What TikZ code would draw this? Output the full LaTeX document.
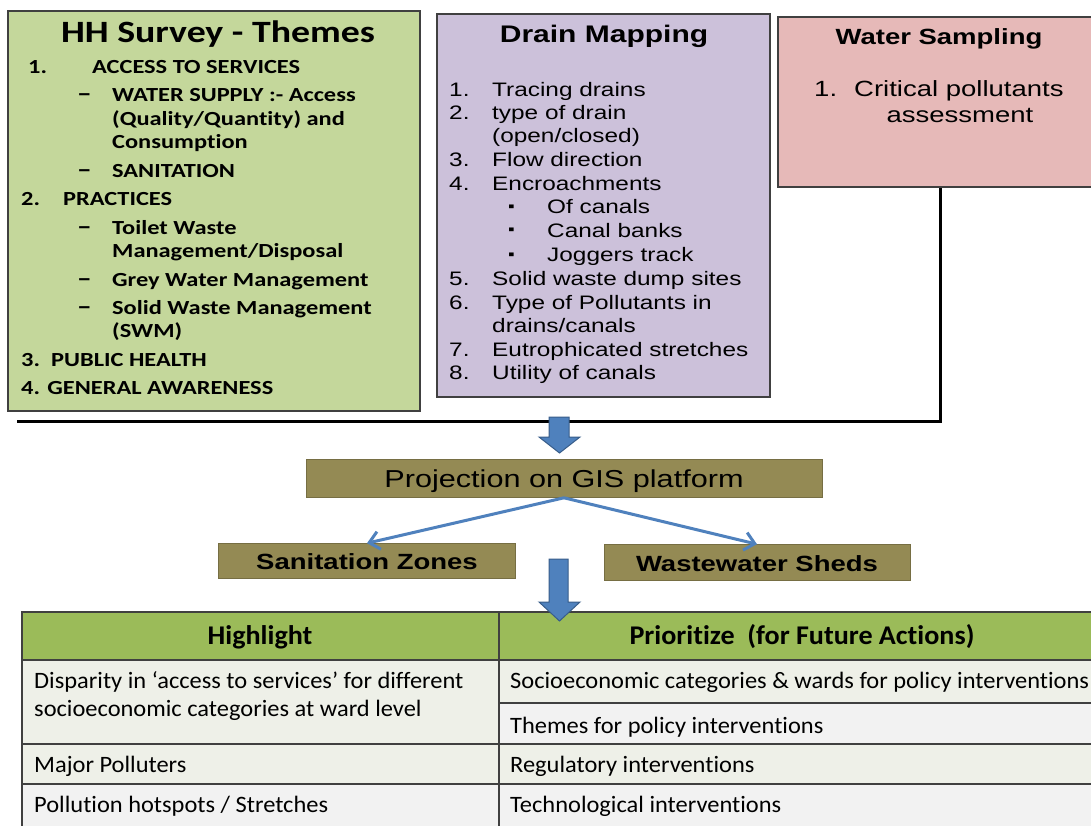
\documentclass[tikz,border=0pt]{standalone}
\usepackage{fontspec}
\setmainfont{Liberation Sans}
\newfontfamily\hhfont[FakeStretch=1.22,Ligatures=NoCommon]{Carlito}
\newfontfamily\dmfont[FakeStretch=1.25]{Liberation Sans}
\newfontfamily\tbfont[FakeStretch=1.04,Ligatures=NoCommon]{Carlito}
\usetikzlibrary{arrows.meta}
\definecolor{hhgreen}{HTML}{C4D79B}
\definecolor{dmpurple}{HTML}{CCC1DA}
\definecolor{wspink}{HTML}{E6B9B8}
\definecolor{olivebox}{HTML}{948A54}
\definecolor{blueA}{HTML}{4F81BD}
\definecolor{blueB}{HTML}{385D8A}
\definecolor{thgreen}{HTML}{9BBB59}
\definecolor{rowA}{HTML}{EEF0E8}
\definecolor{rowB}{HTML}{F2F2F2}
\definecolor{edge}{HTML}{404040}
\begin{document}
\begin{tikzpicture}[x=1pt,y=-1pt,
  panel/.style={draw=edge,line width=1.2pt,inner sep=0pt},
  lt/.style={anchor=base west,inner sep=0pt},
  ct/.style={anchor=base,inner sep=0pt},
  hhitem/.style={lt,font=\hhfont\bfseries\fontsize{20}{24}\selectfont},
  hhdash/.style={lt,font=\hhfont\bfseries\fontsize{24}{24}\selectfont},
  dmitem/.style={lt,font=\dmfont\fontsize{19.5}{23}\selectfont},
  dmbullet/.style={lt,font=\dmfont\fontsize{15}{23}\selectfont},
  wsitem/.style={lt,font=\dmfont\fontsize{22}{26}\selectfont},
  olbox/.style={panel,fill=olivebox,draw=olivebox!80!black,line width=0.6pt,text depth=0pt},
  cell/.style={draw=edge,line width=1.2pt,inner sep=0pt},
  tbitem/.style={lt,font=\tbfont\fontsize{23.5}{27}\selectfont},
  tbhead/.style={ct,font=\tbfont\bfseries\fontsize{27}{31}\selectfont},
  thinarrow/.style={draw=blueA,line width=3pt,-{Straight Barb[length=10pt,width=18pt]}},
  blockarrow/.style={fill=blueA,draw=blueB,line width=1pt,line join=miter}]
\useasboundingbox (0,0) rectangle (1091,826);
\fill[white] (0,0) rectangle (1091,826);

% ---------- top panels ----------
\node[panel,fill=hhgreen,minimum width=412pt,minimum height=400pt] (hh) at (214,211) {};
\node[panel,fill=dmpurple,minimum width=333pt,minimum height=383pt] (dm) at (603.5,205.5) {};
\node[panel,fill=wspink,minimum width=340pt,minimum height=170pt] (ws) at (948,102) {};

% HH survey text
\node[ct,font=\hhfont\bfseries\fontsize{31}{36}\selectfont] (hht) at (218,43) {HH Survey - Themes};
\node[hhitem] (h1n) at (28,74) {1.};
\node[hhitem] (h1) at (92,74) {ACCESS TO SERVICES};
\node[hhdash] (h1ad) at (77,102) {–};
\node[hhitem] (h1a) at (112,102) {WATER SUPPLY :- Access};
\node[hhitem] (h1b) at (112,126) {(Quality/Quantity) and};
\node[hhitem] (h1c) at (112,149) {Consumption};
\node[hhdash] (h1dd) at (77,178) {–};
\node[hhitem] (h1d) at (112,178) {SANITATION};
\node[hhitem] (h2n) at (21,206) {2.};
\node[hhitem] (h2) at (63,206) {PRACTICES};
\node[hhdash] (h2ad) at (77,234) {–};
\node[hhitem] (h2a) at (112,234) {Toilet Waste};
\node[hhitem] (h2b) at (112,258) {Management/Disposal};
\node[hhdash] (h2cd) at (77,286) {–};
\node[hhitem] (h2c) at (112,286) {Grey Water Management};
\node[hhdash] (h2dd) at (77,314) {–};
\node[hhitem] (h2d) at (112,314) {Solid Waste Management};
\node[hhitem] (h2e) at (112,337) {(SWM)};
\node[hhitem] (h3n) at (21,366) {3.};
\node[hhitem] (h3) at (51,366) {PUBLIC HEALTH};
\node[hhitem] (h4) at (21,394) {4. GENERAL AWARENESS};

% Drain mapping text
\node[ct,font=\dmfont\bfseries\fontsize{24}{28}\selectfont] (dmt) at (604,43) {Drain Mapping};
\node[dmitem] (d1n) at (449,97) {1.};
\node[dmitem] (d1) at (492,97) {Tracing drains};
\node[dmitem] (d2n) at (449,120) {2.};
\node[dmitem] (d2) at (492,120) {type of drain};
\node[dmitem] (d2b) at (492,143) {(open/closed)};
\node[dmitem] (d3n) at (449,167) {3.};
\node[dmitem] (d3) at (492,167) {Flow direction};
\node[dmitem] (d4n) at (449,191) {4.};
\node[dmitem] (d4) at (492,191) {Encroachments};
\node[dmbullet] (d4ab) at (508,212) {▪};
\node[dmitem] (d4a) at (547,214) {Of canals};
\node[dmbullet] (d4bb) at (508,235) {▪};
\node[dmitem] (d4b) at (547,237) {Canal banks};
\node[dmbullet] (d4cb) at (508,259) {▪};
\node[dmitem] (d4c) at (547,261) {Joggers track};
\node[dmitem] (d5n) at (449,285) {5.};
\node[dmitem] (d5) at (492,285) {Solid waste dump sites};
\node[dmitem] (d6n) at (449,309) {6.};
\node[dmitem] (d6) at (492,309) {Type of Pollutants in};
\node[dmitem] (d6b) at (492,332) {drains/canals};
\node[dmitem] (d7n) at (449,356) {7.};
\node[dmitem] (d7) at (492,356) {Eutrophicated stretches};
\node[dmitem] (d8n) at (449,379) {8.};
\node[dmitem] (d8) at (492,379) {Utility of canals};

% Water sampling text
\node[ct,font=\dmfont\bfseries\fontsize{22}{26}\selectfont] (wst) at (939,45) {Water Sampling};
\node[wsitem] (w1n) at (814,97) {1.};
\node[wsitem] (w1) at (854,97) {Critical pollutants};
\node[ct,font=\dmfont\fontsize{22}{26}\selectfont] (w1b) at (960,123) {assessment};

% collecting line
\coordinate (lstart) at (17,421);
\draw[line width=3pt] (lstart) -| (ws.south -| 940,0);

% ---------- middle ----------
\node[olbox,minimum width=516pt,minimum height=38pt,text height=17.5pt,font=\dmfont\fontsize{24.5}{28}\selectfont] (proj) at (564,478.5) {Projection on GIS platform};
\node[olbox,minimum width=297pt,minimum height=35pt,text height=16pt,font=\dmfont\bfseries\fontsize{22}{26}\selectfont] (sz) at (367,561) {Sanitation Zones};
\node[olbox,minimum width=306pt,minimum height=36pt,text height=17pt,font=\dmfont\bfseries\fontsize{22}{26}\selectfont] (ww) at (757,562.5) {Wastewater Sheds};

\draw[blockarrow] (549,417) -- (569,417) -- (569,437) -- (580,437) -- (559.5,453) -- (539,437) -- (549,437) -- cycle;

\draw[thinarrow] (proj.south) -- (sz.north);
\draw[thinarrow] (proj.south) -- (ww.north);

% ---------- table ----------
\node[cell,fill=thgreen,minimum width=477pt,minimum height=48pt] (th1) at (260.5,636) {};
\node[cell,fill=thgreen,minimum width=600pt,minimum height=48pt] (th2) at (799,636) {};
\node[cell,fill=rowA,minimum width=477pt,minimum height=84pt] (c11) at (260.5,702) {};
\node[cell,fill=rowA,minimum width=600pt,minimum height=43pt] (c12) at (799,681.5) {};
\node[cell,fill=rowB,minimum width=600pt,minimum height=41pt] (c13) at (799,723.5) {};
\node[cell,fill=rowA,minimum width=477pt,minimum height=40pt] (c21) at (260.5,764) {};
\node[cell,fill=rowA,minimum width=600pt,minimum height=40pt] (c22) at (799,764) {};
\node[cell,fill=rowB,minimum width=477pt,minimum height=44pt] (c31) at (260.5,806) {};
\node[cell,fill=rowB,minimum width=600pt,minimum height=44pt] (c32) at (799,806) {};

\node[tbhead] (tht1) at (260,644) {Highlight};
\node[tbhead] (tht2) at (802,644) {Prioritize\ \ (for Future Actions)};
\node[tbitem] (t11) at (34,688) {Disparity in ‘access to services’ for different};
\node[tbitem] (t11b) at (34,716) {socioeconomic categories at ward level};
\node[tbitem] (t12) at (510,688) {Socioeconomic categories \& wards for policy interventions};
\node[tbitem] (t13) at (510,733) {Themes for policy interventions};
\node[tbitem] (t21) at (34,772) {Major Polluters};
\node[tbitem] (t22) at (510,772) {Regulatory interventions};
\node[tbitem] (t31) at (34,812) {Pollution hotspots / Stretches};
\node[tbitem] (t32) at (510,812) {Technological interventions};

\draw[blockarrow] (549,559) -- (568,559) -- (568,602) -- (580,602) -- (559.5,621) -- (539,602) -- (549,602) -- cycle;
\end{tikzpicture}
\end{document}
